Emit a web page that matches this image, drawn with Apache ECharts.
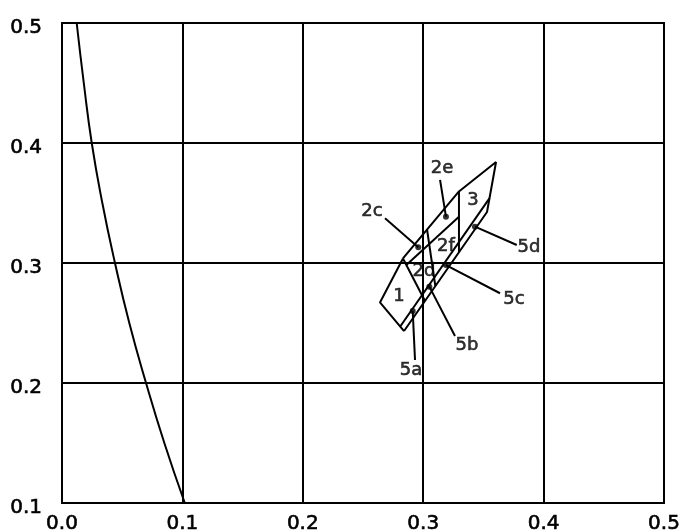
<!DOCTYPE html>
<html>
<head>
<meta charset="utf-8">
<script src="https://cdn.jsdelivr.net/npm/echarts@6/dist/echarts.min.js"></script>
<style>
  html, body { margin: 0; padding: 0; background: #fff; }
  #main { width: 681px; height: 531px; }
</style>
</head>
<body>
<div id="main"></div>
<script>
// boundary curve on the left
const curve = [[0.0122, 0.5], [0.0181, 0.45], [0.0247, 0.4], [0.0335, 0.35], [0.044, 0.3],
  [0.0559, 0.25], [0.0698, 0.2], [0.085, 0.15], [0.102, 0.1]];

// outlines of the regions
const upperEdge = [[0.2832, 0.3038], [0.3297, 0.3596], [0.3605, 0.3842], [0.3530, 0.3425], [0.2841, 0.2433]];
const region1 = [[0.2832, 0.3038], [0.2641, 0.2671], [0.2841, 0.2433]];
const innerEdge = [[0.2809, 0.2471], [0.3550, 0.3538]];
const cut1 = [[0.2832, 0.3038], [0.3015, 0.2683]];
const midLine = [[0.2860, 0.2983], [0.3297, 0.3386]];
const cutC = [[0.3032, 0.3279], [0.3101, 0.2808]];
const cut3 = [[0.3297, 0.3596], [0.3297, 0.3091]];

// marked points and their labels
const dots = [[0.2959, 0.3131], [0.3189, 0.3386], [0.2913, 0.26], [0.3051, 0.2803], [0.3189, 0.2983], [0.3430, 0.3303]];
const leaderEnds = [[0.2683, 0.3373], [0.3140, 0.3692], [0.2932, 0.2192], [0.3264, 0.2392], [0.3638, 0.2748], [0.3777, 0.315]];

const labelNames = ['2c', '2e', '3', '2f', '2d', '1', '5d', '5c', '5b', '5a'];
const labelPos = [[0.2575, 0.3433], [0.3156, 0.3792], [0.3414, 0.3525], [0.3189, 0.3142], [0.3007, 0.2933],
  [0.2799, 0.2725], [0.3879, 0.3133], [0.3754, 0.27], [0.3364, 0.2317], [0.2899, 0.2108]];

const xTicks = [0.0, 0.1, 0.2, 0.3, 0.4, 0.5];
const yTicks = [0.1, 0.2, 0.3, 0.4, 0.5];

let chart = echarts.init(document.getElementById('main'));

function line(data, smooth) {
    return {
        type: 'line',
        data: data,
        smooth: smooth || false,
        showSymbol: false,
        silent: true,
        lineStyle: { color: '#000', width: 2 },
        z: 5
    };
}

let series = [
    line(curve, 0.5),
    line(upperEdge),
    line(region1),
    line(innerEdge),
    line(cut1),
    line(midLine),
    line(cutC),
    line(cut3)
];

dots.forEach((d, i) => {
    series.push(line([d, leaderEnds[i]]));
});

series.push({
    type: 'scatter',
    data: dots,
    symbolSize: 6,
    itemStyle: { color: '#000' },
    z: 6
});

series.push({
    type: 'scatter',
    data: labelPos.map((p, i) => ({ name: labelNames[i], value: p })),
    symbolSize: 0,
    label: {
        show: true,
        position: 'inside',
        formatter: p => p.name,
        color: '#000',
        fontFamily: 'DejaVu Sans',
        fontSize: 18,
        textBorderColor: '#000',
        textBorderWidth: 0.6
    },
    z: 7
});

const tickFont = {
    color: '#000', fontFamily: 'DejaVu Sans', fontSize: 20,
    textBorderColor: '#000', textBorderWidth: 0.6
};

let option = {
    animation: false,
    backgroundColor: '#fff',
    grid: {
        left: 62, right: 17, top: 23, bottom: 28,
        containLabel: false,
        outerBoundsMode: 'none',
        show: true, borderColor: '#000', borderWidth: 2
    },
    xAxis: {
        type: 'value',
        min: xTicks[0], max: xTicks[xTicks.length - 1], interval: 0.1,
        axisLine: { lineStyle: { color: '#000', width: 2 } },
        axisTick: { show: false },
        splitLine: { lineStyle: { color: '#000', width: 2 } },
        axisLabel: Object.assign({ margin: 11, formatter: v => v.toFixed(1) }, tickFont)
    },
    yAxis: {
        type: 'value',
        min: yTicks[0], max: yTicks[yTicks.length - 1], interval: 0.1,
        axisLine: { lineStyle: { color: '#000', width: 2 } },
        axisTick: { show: false },
        splitLine: { lineStyle: { color: '#000', width: 2 } },
        axisLabel: {
            margin: 20,
            formatter: v => '{t|' + v.toFixed(1) + '}',
            rich: { t: Object.assign({ padding: [9, 0, 0, 0] }, tickFont) }
        }
    },
    series: series
};

chart.setOption(option);

window.onresize = () => {
    chart.resize();
};
</script>
</body>
</html>
